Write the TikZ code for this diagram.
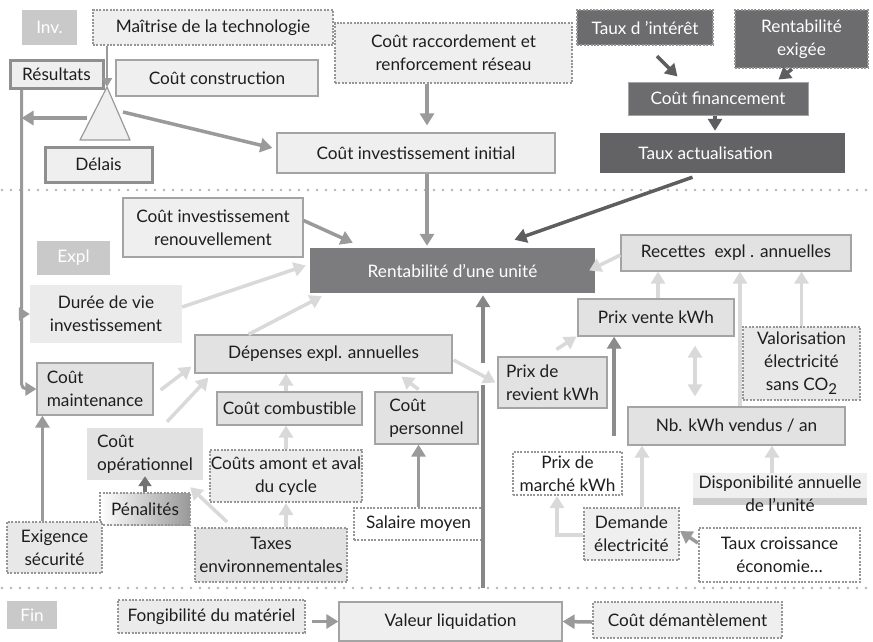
\documentclass[tikz,border=0pt]{standalone}
\usepackage{fontspec}
\setmainfont{Lato}
\usetikzlibrary{arrows.meta,calc}

\definecolor{tagfill}{HTML}{C9C9C9}
\definecolor{paleFill}{HTML}{EFEFEF}
\definecolor{midFill}{HTML}{E2E2E2}
\definecolor{edgeGray}{HTML}{A4A4A4}
\definecolor{thickEdge}{HTML}{8F8F8F}
\definecolor{dotEdge}{HTML}{969696}
\definecolor{darkFill}{HTML}{6C6C6F}
\definecolor{darkerFill}{HTML}{636366}
\definecolor{hubFill}{HTML}{7C7C7F}
\definecolor{arrLight}{HTML}{D9D9D9}
\definecolor{arrMid}{HTML}{9A9A9A}
\definecolor{arrDark}{HTML}{5E5E60}
\definecolor{sepGray}{HTML}{B4B4B4}
\definecolor{inkText}{HTML}{1E1E1E}

\begin{document}
\begin{tikzpicture}[x=1pt,y=-1pt,
  font=\fontsize{17.2}{23}\selectfont,
  sz/.style 2 args={minimum width=#1, minimum height=#2},
  base/.style={inner sep=0pt, align=center, text=inkText},
  box/.style={base, draw=edgeGray, line width=1.2pt, fill=paleFill},
  midbox/.style={base, draw=edgeGray, line width=1.2pt, fill=midFill},
  flatbox/.style={base, fill=midFill},
  heavybox/.style={base, draw=thickEdge, line width=3pt, fill=paleFill},
  dotbox/.style={base, draw=dotEdge, line width=2.2pt, dash pattern=on 2pt off 1.4pt, fill=#1},
  dotbox/.default=paleFill,
  darkbox/.style={inner sep=0pt, align=center, text=white, fill=#1},
  tag/.style={inner sep=0pt, text=white, fill=tagfill},
  tipL/.style={-{Triangle[length=12pt,width=14pt]}},
  lightarr/.style={draw=arrLight, line width=3.5pt, tipL},
  midarr/.style={draw=arrMid, line width=3.5pt, tipL},
  darkarr/.style={draw=arrDark, line width=3.5pt, tipL},
  separator/.style={draw=sepGray, line width=2.6pt, dash pattern=on 0pt off 9pt, line cap=round}
]
\useasboundingbox (0,0) rectangle (873,641);

% phase separators
\draw[separator] (2,190) -- (873,190);
\draw[separator] (2,588) -- (873,588);

% phase tags
\node[tag, sz={55}{35}] (tagInv) at (49.5,27.5) {Inv.};
\node[tag, sz={73}{34}] (tagExpl) at (73.5,258) {Expl};
\node[tag, sz={50}{28}] (tagFin) at (32,615) {Fin};

% ---------- investment phase ----------
\node[dotbox, sz={240}{35}] (maitrise) at (213,27.5) {Maîtrise de la technologie};
\node[heavybox, sz={93}{28}] (resultats) at (56.5,74) {Résultats};
\node[box, sz={202}{36}] (construction) at (217,78) {Coût construction};
\node[heavybox, sz={107}{35}] (delais) at (98.5,164.5) {Délais};
\node[dotbox, sz={237}{60}] (raccord) at (453.5,53) {Coût raccordement et\\renforcement réseau};
\node[box, sz={278}{40}] (invinit) at (416,153) {Coût investissement initial};

% balance triangle
\coordinate (triTop) at (107,87);
\coordinate (triL) at (87,118);
\coordinate (triR) at (123,112);
\draw[draw=arrMid, line width=1.2pt, fill=paleFill, line join=round] (triTop) -- (80,140) -- (130,140) -- cycle;

% financing
\node[dotbox=darkFill, text=white, sz={136}{35}] (interet) at (645,27.5) {Taux d 'intérêt};
\node[dotbox=darkFill, text=white, sz={133}{58}] (exigee) at (801.5,39) {Rentabilité\\exigée};
\node[darkbox=darkFill, draw=edgeGray, line width=1pt, sz={180}{33}] (financement) at (718,98.5) {Coût financement};
\node[darkbox=darkerFill, sz={245}{40}] (actualisation) at (722.5,153) {Taux actualisation\hspace*{34pt}};

% ---------- operating phase ----------
\node[darkbox=hubFill, sz={285}{45}] (rentab) at (452.5,270.5) {Rentabilité d’une unité};
\node[box, sz={180}{59}] (renouv) at (213,227.5) {Coût investissement\\renouvellement};
\node[flatbox, fill=paleFill!70!midFill, sz={152}{58}] (duree) at (106,314) {Durée de vie\\investissement};
\node[midbox, sz={257}{38}] (depenses) at (323.5,354) {Dépenses expl. annuelles};
\node[midbox, align=left, sz={116}{52}] (maintenance) at (95,389) {Coût\\maintenance};
\node[flatbox, align=left, sz={116}{52}] (operationnel) at (145,454) {Coût\\opérationnel};
\node[base, draw=dotEdge, line width=2.2pt, dash pattern=on 2pt off 1.4pt,
      left color=white, right color=black!40, sz={90}{32}] (penalites) at (145,509) {Pénalités};
\node[dotbox=midFill!80!white, sz={95}{51}] (exigence) at (54.5,547.5) {Exigence\\sécurité};
\node[midbox, sz={145}{33}] (combustible) at (289.5,408.5) {Coût combustible};
\node[midbox, align=left, sz={103}{52}] (personnel) at (426.5,418) {Coût\\personnel};
\node[dotbox=midFill!70!white, sz={152}{52}] (amont) at (286,476) {Coûts amont et aval\\du cycle};
\node[dotbox=white, sz={129}{32}] (salaire) at (418.5,524) {Salaire moyen};
\node[dotbox=midFill, sz={152}{54}] (taxes) at (271,555) {Taxes\\environnementales};

\node[midbox, align=left, sz={109}{51}] (revient) at (552.5,382.5) {Prix de\\revient kWh};
\node[midbox, sz={156}{37}] (vente) at (656,317.5) {Prix vente kWh};
\node[dotbox=white, sz={109}{43}] (marche) at (567.5,473.5) {Prix de\\marché kWh};
\node[midbox, sz={230}{36}] (recettes) at (736,253) {Recettes\hspace{9pt}expl . annuelles};
\node[dotbox=midFill!80!white, sz={117}{73}] (valoris) at (801.5,363.5)
  {Valorisation\\électricité\\sans CO\raisebox{-4pt}{\fontsize{15}{15}\selectfont 2}};
\node[midbox, sz={217}{38}] (nbkwh) at (736.5,426) {Nb. kWh vendus / an};
\node[base, fill=paleFill, sz={174}{42},
  path picture={
    \fill[white] (path picture bounding box.south west) rectangle ($(path picture bounding box.south east)+(0,-10)$);
    \fill[black!20] ($(path picture bounding box.south west)+(0,-10)$) rectangle ($(path picture bounding box.south east)+(0,-17)$);
  }] (dispo) at (780,494) {Disponibilité annuelle\\de l’unité};
\node[dotbox, sz={95}{52}] (demande) at (631.5,534) {Demande\\électricité};
\node[dotbox=white, sz={161}{54}] (croissance) at (779.5,555) {Taux croissance\\économie…};

% ---------- end of life ----------
\node[dotbox=midFill!70!white, sz={187}{33}] (fongib) at (211.5,616.5) {Fongibilité du matériel};
\node[box, sz={223}{39}] (valeur) at (450.5,621.5) {Valeur liquidation};
\node[dotbox, sz={189}{36}] (demantel) at (687.5,620) {Coût démantèlement};

% ---------- connectors: investment ----------
\draw[draw=arrMid, line width=2pt, -{Triangle[length=9pt,width=10pt]}] (maitrise.south -| triTop) -- (triTop);
\coordinate (rs) at ($(resultats.south west)+(13,0)$);
\draw[midarr] (triL) -- (rs |- triL);
\draw[midarr] (triR) -- ($(invinit.west)+(-4,-5)$);
\draw[draw=arrMid, line width=3pt, rounded corners=5pt, -{Triangle[length=11pt,width=13pt]}]
  (rs) -- (rs |- maintenance.west) -- (maintenance.west);
\draw[draw=arrMid, line width=3pt, -{Triangle[length=11pt,width=13pt]}] (rs |- duree.west) -- (duree.west);

\coordinate (colA) at ($(invinit.south)+(11,0)$);
\draw[midarr] (raccord.south -| colA) -- ($(invinit.north -| colA)+(0,-7)$);
\draw[midarr] (colA) -- ($(rentab.north -| colA)+(0,-2)$);

\draw[darkarr] ($(interet.south)+(12,10)$) -- ($(financement.north west)+(50,-5)$);
\draw[darkarr] ($(exigee.south)+(-9.5,0)$) -- ($(financement.north east)+(-30,-2)$);
\draw[darkarr] ($(financement.south)+(-3,0)$) -- ($(actualisation.north -| financement.south)+(-3,-2)$);
\draw[darkarr] ($(actualisation.south)+(-30,4)$) -- ($(rentab.north)+(62,-8)$);

% ---------- connectors: operating ----------
\draw[midarr] ($(renouv.east)+(0,-7)$) -- ($(rentab.north west)+(43,-5)$);
\draw[lightarr] ($(duree.east)+(0,-7)$) -- ($(rentab.west)+(-4,-5)$);
\draw[lightarr] ($(depenses.north)+(-75,0)$) -- ($(rentab.south west)+(12,3)$);
\draw[lightarr] ($(maintenance.east)+(7,1)$) -- ($(depenses.south west)+(-3,-7)$);
\draw[lightarr] ($(operationnel.north)+(22,-6)$) -- ($(depenses.south west)+(14,4)$);
\draw[draw=black!55, line width=3.5pt, -{Triangle[length=10pt,width=13pt]}] (penalites.north) -- ($(operationnel.south)+(0,-4)$);
\draw[midarr] (exigence.north -| maintenance.south west) ++(6,0) -- ($(maintenance.south west)+(6,0)$);
\draw[lightarr] (combustible.north -| amont.north) -- (depenses.south -| amont.north);
\draw[lightarr] ($(personnel.north)+(-8,-2)$) -- ($(depenses.south)+(78,3)$);
\draw[lightarr] (amont.north) -- (combustible.south -| amont.north);
\draw[midarr] (salaire.north) -- (personnel.south -| salaire.north);
\draw[lightarr] (taxes.north -| amont.south) -- (amont.south);
\draw[lightarr] ($(taxes.north)+(-44,-5)$) -- ($(operationnel.south east)+(-13,7)$);

% end-of-life value feeding the profitability, hopping over the cost arrow
\coordinate (liq) at (483,588);
\coordinate (hopB) at (483,385);
\coordinate (hopT) at (483,363);
\draw[draw=black!47, line width=4pt] (liq) -- (hopB);
\draw[draw=black!47, line width=4pt, tipL] (hopT) -- ($(rentab.south -| liq)+(0,2)$);

\draw[lightarr] ($(depenses.east)+(1,6)$) -- ($(revient.west)+(-2,0)$);
\draw[lightarr] ($(revient.north)+(4,-7)$) -- ($(vente.south west)+(-1,0)$);
\coordinate (mk) at ($(marche.north east)+(-9,-15)$);
\draw[draw=black!45, line width=3.5pt, tipL] (mk) -- (mk |- vente.south);
\draw[lightarr] ($(recettes.west)+(0,2)$) -- ($(rentab.east)+(-6,0)$);
\draw[lightarr] (vente.north) ++(2,0) -- ($(recettes.south -| vente.north)+(2,0)$);
\draw[lightarr] (valoris.north) -- (recettes.south -| valoris.north);
\draw[lightarr] ($(nbkwh.north)+(3.5,0)$) -- ($(recettes.south -| nbkwh.north)+(3.5,0)$);
\draw[draw=arrLight, line width=3.5pt, {Triangle[length=12pt,width=14pt]}-{Triangle[length=12pt,width=14pt]}]
  ($(vente.south)+(39,9)$) -- ($(nbkwh.north)+(-41.5,-10)$);
\draw[lightarr] ($(dispo.north)+(-8,0)$) -- ($(nbkwh.south -| dispo.north)+(-8,0)$);
\draw[lightarr] ($(demande.north)+(10.5,0)$) -- ($(nbkwh.south -| demande.north)+(10.5,0)$);
\draw[lightarr] ($(demande.west)+(0,1)$) -| ($(marche.south)+(-10.5,0)$);
\draw[midarr] ($(croissance.west)+(0,-12)$) -- ($(demande.east)+(0,-3)$);

% ---------- connectors: end of life ----------
\draw[midarr] ($(fongib.east)+(6,5)$) -- (valeur.west);
\draw[midarr] ($(demantel.west)+(0,2)$) -- (valeur.east);

\end{tikzpicture}
\end{document}
